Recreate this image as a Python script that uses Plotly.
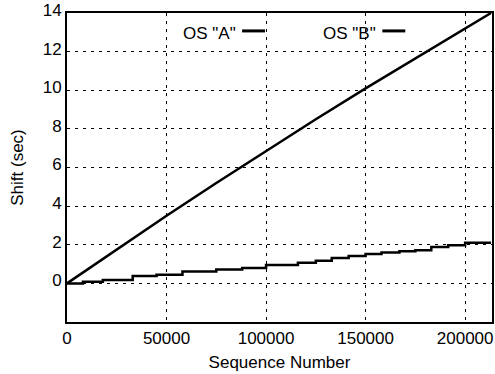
import plotly.graph_objects as go

# OS "A": nearly linear drift
a_x = [0, 25000, 50000, 75000, 100000, 125000, 150000, 175000, 200000, 213000]
a_y = [0, 1.75, 3.5, 5.2, 6.85, 8.5, 10.1, 11.65, 13.2, 14.0]

# OS "B": stepped slow drift
b_x = [0, 8000, 18000, 33000, 45000, 58000, 75000, 88000, 100000, 116000,
       125000, 133000, 141500, 150000, 158000, 167000, 175000, 183000, 191500, 200000, 213000]
b_y = [0, 0.08, 0.18, 0.38, 0.45, 0.62, 0.72, 0.8, 0.95, 1.07,
       1.17, 1.32, 1.42, 1.52, 1.6, 1.66, 1.72, 1.88, 1.98, 2.1, 2.1]

y_ticks = [0, 2, 4, 6, 8, 10, 12, 14]
x_ticks = [0, 50000, 100000, 150000, 200000]

font = dict(family="Liberation Sans, Arial, sans-serif", size=17, color="black")

fig = go.Figure()
fig.add_trace(go.Scatter(x=a_x, y=a_y, mode="lines", line=dict(color="black", width=2.5),
                         showlegend=False, name='OS "A"'))
fig.add_trace(go.Scatter(x=b_x, y=b_y, mode="lines", line=dict(color="black", width=2.5, shape="hv"),
                         showlegend=False, name='OS "B"'))

axis_common = dict(showline=True, linecolor="black", linewidth=2, mirror=True,
                   showgrid=True, gridcolor="black", gridwidth=1, griddash="3px,5px",
                   zeroline=False, ticks="", tickfont=font, title_font=font,
                   ticklabeloverflow="allow")

fig.update_xaxes(range=[0, 213500], tickvals=x_ticks, ticktext=[str(v) for v in x_ticks],
                 title_text="Sequence Number", title_standoff=9, **axis_common)
fig.update_yaxes(range=[-2, 14], tickvals=y_ticks, ticktext=[str(v) for v in y_ticks],
                 ticklabelshift=-3,
                 title_text="Shift (sec)", title_standoff=15, **axis_common)

# legend (text then line sample)
legend_items = [('OS "A"', 0.268, 0.412), ('OS "B"', 0.598, 0.742)]
for label, xt, xl in legend_items:
    fig.add_annotation(x=xt, y=0.935, xref="paper", yref="paper", text=label, showarrow=False,
                       xanchor="left", yanchor="middle", font=font)
    fig.add_shape(type="line", xref="paper", yref="paper", x0=xl, x1=xl + 0.054, y0=0.942, y1=0.942,
                  line=dict(color="black", width=3))

fig.update_layout(width=495, height=374, margin=dict(l=67, r=1, t=6, b=52),
                  plot_bgcolor="white", paper_bgcolor="white", font=font)

fig.write_html("out.html")
